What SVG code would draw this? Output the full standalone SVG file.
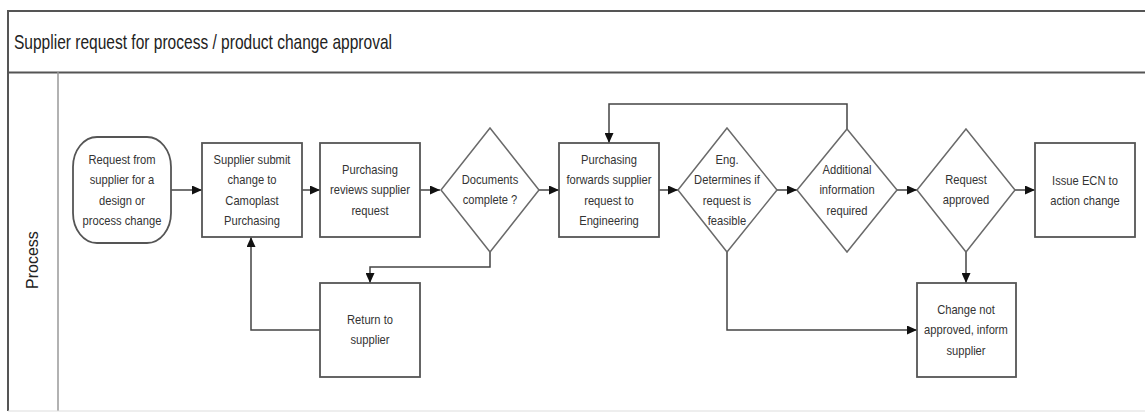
<svg xmlns="http://www.w3.org/2000/svg" width="1145" height="412" viewBox="0 0 1145 412">
<style>
.frame{fill:none;stroke:#555;stroke-width:2}
.lane{fill:none;stroke:#999;stroke-width:1.5}
.box{fill:#fff;stroke:#555;stroke-width:1.8}
.dia{fill:#fff;stroke:#6a6a6a;stroke-width:1.5}
.conn{fill:none;stroke:#444;stroke-width:1.5}
.t{font-family:"Liberation Sans",Arial,sans-serif;font-size:13px;fill:#333;text-anchor:middle}
.title{font-family:"Liberation Sans",Arial,sans-serif;font-size:21px;fill:#222}
.lbl{font-family:"Liberation Sans",Arial,sans-serif;font-size:16px;fill:#222}
</style>
<defs>
<marker id="ah" markerUnits="userSpaceOnUse" markerWidth="10" markerHeight="9" refX="10" refY="4.5" orient="auto">
<path d="M0,0 L10,4.5 L0,9 z" fill="#111"/>
</marker>
</defs>
<rect width="1145" height="412" fill="#fff"/>
<g id="frame">
<line class="frame" x1="8" y1="11" x2="1145" y2="11"/>
<line class="frame" x1="8" y1="72.5" x2="1145" y2="72.5"/>
<line class="frame" x1="8" y1="10" x2="8" y2="411"/>
<line class="lane" x1="58" y1="72" x2="58" y2="411"/>
<line x1="8" y1="411" x2="1145" y2="411" stroke="#ddd" stroke-width="1"/>
<text class="title" x="14" y="49" textLength="378" lengthAdjust="spacingAndGlyphs">Supplier request for process / product change approval</text>
<text class="lbl" transform="translate(38 289) rotate(-90)" x="0" y="0">Process</text>
</g>
<g id="connectors">
<line class="conn" x1="171" y1="190" x2="202" y2="190" marker-end="url(#ah)"/>
<line class="conn" x1="302" y1="190" x2="320" y2="190" marker-end="url(#ah)"/>
<line class="conn" x1="420" y1="190" x2="440" y2="190" marker-end="url(#ah)"/>
<line class="conn" x1="539" y1="190" x2="559" y2="190" marker-end="url(#ah)"/>
<line class="conn" x1="659" y1="190" x2="678" y2="190" marker-end="url(#ah)"/>
<line class="conn" x1="777" y1="190" x2="797" y2="190" marker-end="url(#ah)"/>
<line class="conn" x1="897" y1="190" x2="917" y2="190" marker-end="url(#ah)"/>
<line class="conn" x1="1015" y1="190" x2="1035" y2="190" marker-end="url(#ah)"/>
<polyline class="conn" points="847,129 847,104 609,104 609,143" marker-end="url(#ah)"/>
<polyline class="conn" points="490,252 490,267 370,267 370,283" marker-end="url(#ah)"/>
<polyline class="conn" points="320,330 251,330 251,237" marker-end="url(#ah)"/>
<polyline class="conn" points="727,252 727,330 917,330" marker-end="url(#ah)"/>
<line class="conn" x1="966" y1="252" x2="966" y2="283" marker-end="url(#ah)"/>
</g>
<g id="start">
<rect class="box" x="73" y="137" width="98" height="106" rx="24" ry="30"/>
<text class="t" transform="translate(122 0) scale(0.86 1)"><tspan x="0" y="164">Request from</tspan><tspan x="0" y="184.5">supplier for a</tspan><tspan x="0" y="205">design or</tspan><tspan x="0" y="225.5">process change</tspan></text>
</g>
<g id="submit">
<rect class="box" x="202" y="143" width="100" height="94"/>
<text class="t" transform="translate(252 0) scale(0.86 1)"><tspan x="0" y="164">Supplier submit</tspan><tspan x="0" y="184.5">change to</tspan><tspan x="0" y="205">Camoplast</tspan><tspan x="0" y="225.5">Purchasing</tspan></text>
</g>
<g id="review">
<rect class="box" x="320" y="143" width="100" height="94"/>
<text class="t" transform="translate(370 0) scale(0.86 1)"><tspan x="0" y="174">Purchasing</tspan><tspan x="0" y="194.5">reviews supplier</tspan><tspan x="0" y="215">request</tspan></text>
</g>
<g id="docs">
<polygon class="dia" points="490,128 539,190 490,252 441,190"/>
<text class="t" transform="translate(490 0) scale(0.86 1)"><tspan x="0" y="184">Documents</tspan><tspan x="0" y="204.5">complete ?</tspan></text>
</g>
<g id="forward">
<rect class="box" x="559" y="143" width="100" height="94"/>
<text class="t" transform="translate(609 0) scale(0.86 1)"><tspan x="0" y="164">Purchasing</tspan><tspan x="0" y="184.5">forwards supplier</tspan><tspan x="0" y="205">request to</tspan><tspan x="0" y="225.5">Engineering</tspan></text>
</g>
<g id="feasible">
<polygon class="dia" points="727,128 777,190 727,252 678,190"/>
<text class="t" transform="translate(727 0) scale(0.86 1)"><tspan x="0" y="164">Eng.</tspan><tspan x="0" y="184.5">Determines if</tspan><tspan x="0" y="205">request is</tspan><tspan x="0" y="225.5">feasible</tspan></text>
</g>
<g id="additional">
<polygon class="dia" points="847,129 897,190 847,252 797,190"/>
<text class="t" transform="translate(847 0) scale(0.86 1)"><tspan x="0" y="174">Additional</tspan><tspan x="0" y="194.5">information</tspan><tspan x="0" y="215">required</tspan></text>
</g>
<g id="approved">
<polygon class="dia" points="966,129 1015,190 966,252 917,190"/>
<text class="t" transform="translate(966 0) scale(0.86 1)"><tspan x="0" y="184">Request</tspan><tspan x="0" y="204.5">approved</tspan></text>
</g>
<g id="ecn">
<rect class="box" x="1035" y="143" width="100" height="94"/>
<text class="t" transform="translate(1085 0) scale(0.86 1)"><tspan x="0" y="185">Issue ECN to</tspan><tspan x="0" y="205.5">action change</tspan></text>
</g>
<g id="return">
<rect class="box" x="320" y="283" width="100" height="94"/>
<text class="t" transform="translate(370 0) scale(0.86 1)"><tspan x="0" y="324">Return to</tspan><tspan x="0" y="344.5">supplier</tspan></text>
</g>
<g id="notapproved">
<rect class="box" x="917" y="283" width="99" height="94"/>
<text class="t" transform="translate(966 0) scale(0.86 1)"><tspan x="0" y="314">Change not</tspan><tspan x="0" y="334.5">approved, inform</tspan><tspan x="0" y="355">supplier</tspan></text>
</g>
</svg>
